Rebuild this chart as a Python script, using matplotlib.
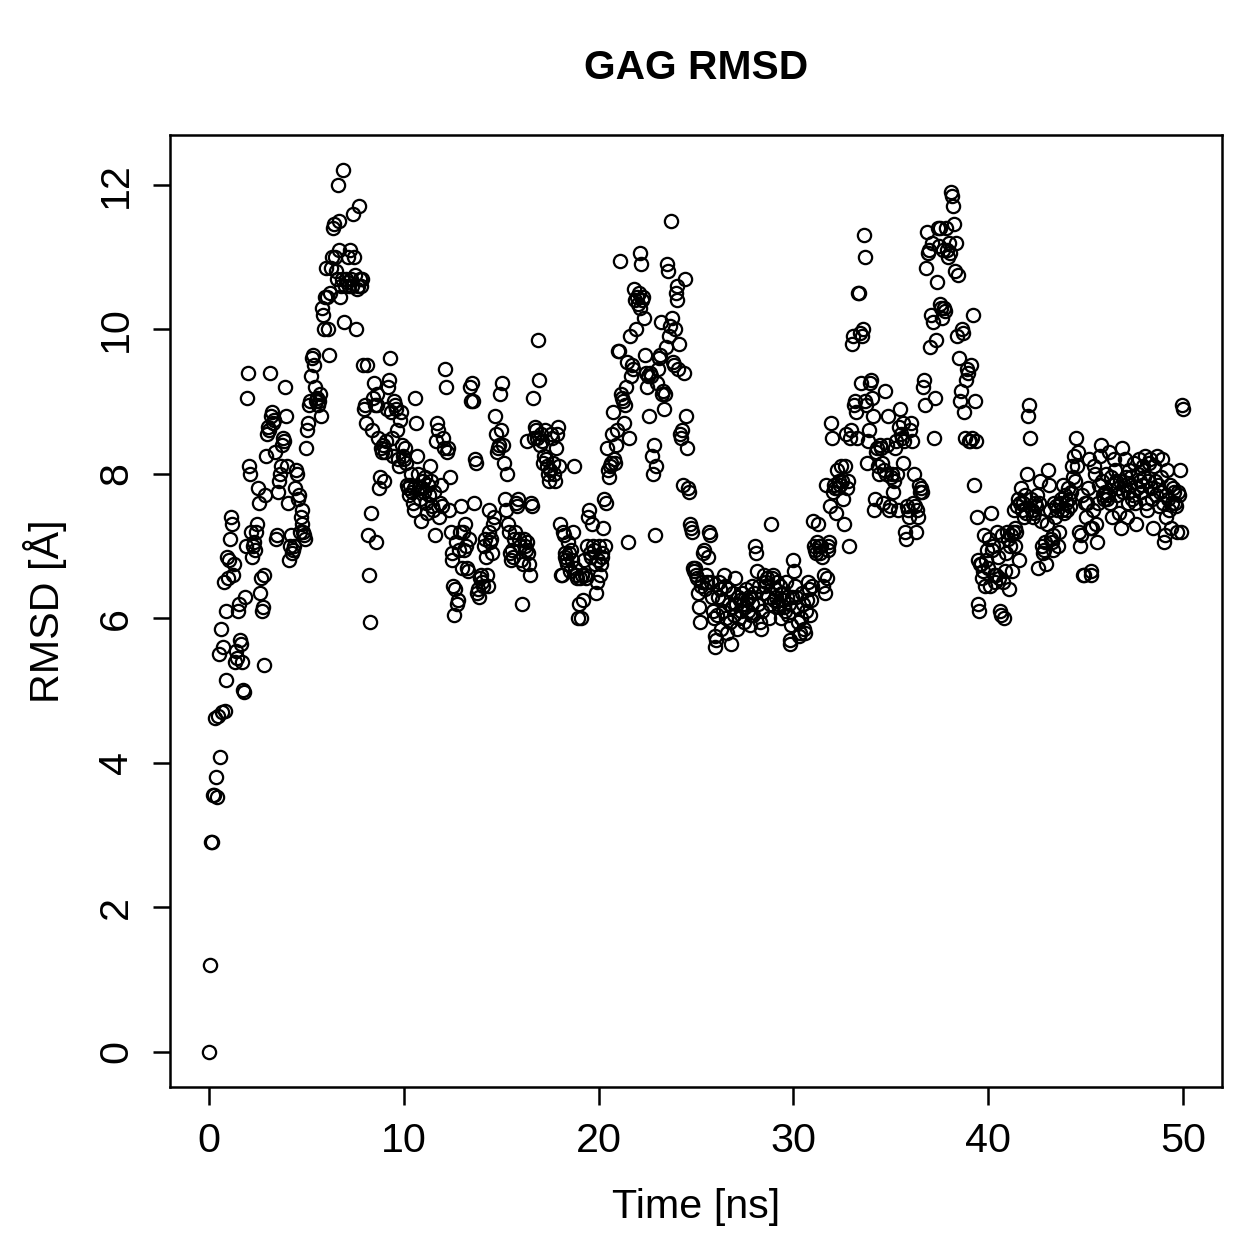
import numpy as np
import matplotlib
matplotlib.use("Agg")
import matplotlib.pyplot as plt

plt.rcParams['font.family'] = ['Liberation Sans', 'DejaVu Sans']

# RMSD values, one frame every 0.05 ns (20 per row = 1 ns)
rmsd = [
    0.0, 1.2, 2.9, 2.9, 3.55, 3.55, 4.62, 3.8, 3.52, 4.65, 5.5, 4.08, 5.85, 4.7, 5.6, 6.5, 4.72, 5.15, 6.1, 6.85,
    6.55, 6.8, 7.1, 7.4, 7.3, 6.6, 6.75, 5.4, 5.55, 5.45, 6.1, 6.2, 5.7, 5.65, 5.4, 5.0, 4.98, 6.3, 7.0, 9.05,
    9.4, 8.1, 8.0, 7.2, 6.85, 7.0, 7.05, 6.95, 7.2, 7.3, 7.8, 7.6, 6.35, 6.55, 6.1, 6.15, 5.35, 6.6, 7.7, 8.25,
    8.55, 8.65, 8.6, 9.4, 8.8, 8.85, 8.7, 8.75, 8.3, 7.1, 7.15, 7.75, 7.9, 8.0, 8.1, 8.4, 8.5, 8.45, 9.2, 8.8,
    8.1, 7.6, 6.8, 7.0, 7.15, 6.9, 6.95, 7.0, 7.8, 8.05, 8.0, 7.65, 7.7, 7.2, 7.4, 7.5, 7.3, 7.2, 7.15, 7.1,
    8.35, 8.6, 8.7, 8.95, 9.0, 9.35, 9.6, 9.65, 9.5, 9.2, 9.0, 9.05, 8.95, 9.0, 9.1, 8.8, 10.3, 10.2, 10.0, 10.45,
    10.85, 10.45, 10.0, 9.65, 10.5, 10.85, 11.0, 11.4, 11.45, 11.0, 10.8, 10.7, 12.0, 11.5, 11.1, 10.45, 10.6, 10.7, 12.2, 10.1,
    10.6, 10.7, 10.65, 11.0, 10.6, 11.1, 10.7, 10.6, 11.6, 11.0, 10.75, 10.0, 10.55, 10.6, 11.7, 10.7, 10.6, 10.7, 9.5, 8.9,
    8.95, 8.7, 9.5, 7.15, 6.6, 5.95, 7.45, 8.6, 9.05, 9.25, 8.95, 7.05, 9.1, 8.95, 8.5, 7.8, 7.95, 8.35, 8.3, 8.4,
    7.9, 8.3, 8.45, 8.9, 9.2, 9.3, 9.6, 8.85, 8.5, 8.25, 9.0, 8.95, 8.9, 8.6, 8.2, 8.1, 8.75, 8.85, 8.4, 8.25,
    8.2, 8.35, 8.15, 7.85, 7.8, 7.7, 7.85, 8.0, 7.75, 7.6, 7.5, 7.8, 9.05, 8.7, 8.25, 8.0, 7.8, 7.65, 7.35, 7.8,
    7.9, 7.75, 7.95, 7.6, 7.45, 7.85, 7.7, 8.1, 7.9, 7.55, 7.5, 7.75, 7.15, 8.45, 8.7, 8.6, 7.4, 7.6, 7.85, 7.55,
    8.5, 8.35, 9.45, 9.2, 8.3, 8.35, 7.5, 7.95, 7.2, 6.8, 6.9, 6.45, 6.05, 6.4, 7.05, 6.2, 6.25, 6.95, 7.2, 7.55,
    6.7, 7.2, 6.95, 7.3, 7.0, 6.7, 6.65, 7.1, 9.2, 9.0, 9.25, 9.0, 7.6, 8.2, 8.15, 6.35, 6.4, 6.3, 6.55, 6.6,
    6.5, 6.45, 7.0, 7.1, 6.85, 6.6, 6.45, 7.2, 7.5, 7.05, 7.1, 6.9, 7.3, 7.4, 8.8, 8.55, 8.3, 8.35, 8.4, 9.1,
    8.6, 9.25, 8.4, 8.15, 7.65, 7.5, 8.0, 7.3, 7.2, 6.9, 6.8, 6.95, 6.85, 7.1, 7.2, 7.6, 7.55, 7.65, 7.1, 7.0,
    6.8, 6.2, 6.75, 7.1, 7.0, 6.95, 7.05, 8.45, 6.9, 6.75, 6.6, 7.6, 7.55, 9.05, 8.5, 8.65, 8.6, 8.5, 9.85, 9.3,
    8.4, 8.55, 8.45, 8.15, 8.25, 8.6, 8.2, 8.1, 8.0, 7.9, 8.05, 8.55, 8.5, 8.15, 8.0, 7.9, 8.35, 8.55, 8.65, 8.1,
    7.3, 6.6, 6.6, 7.2, 7.15, 6.9, 6.85, 6.8, 6.75, 7.05, 6.9, 6.65, 6.95, 6.8, 7.2, 8.1, 6.7, 6.6, 6.55, 6.0,
    6.2, 6.55, 6.0, 6.6, 6.25, 6.8, 6.6, 6.55, 7.0, 7.4, 7.5, 6.9, 6.85, 7.3, 7.0, 6.95, 6.75, 6.35, 6.5, 6.8,
    7.0, 6.6, 6.75, 6.9, 6.85, 7.25, 7.65, 7.0, 7.6, 8.35, 8.05, 7.95, 8.1, 8.15, 8.55, 8.85, 8.2, 8.15, 8.4, 8.6,
    9.7, 9.7, 10.95, 9.1, 9.05, 9.0, 8.7, 8.95, 9.2, 9.55, 7.05, 8.5, 9.9, 9.35, 9.5, 9.45, 10.55, 10.4, 10.0, 10.45,
    10.35, 10.5, 11.05, 10.3, 10.9, 10.4, 10.45, 10.15, 9.65, 9.4, 9.2, 9.35, 8.8, 9.4, 9.35, 8.25, 8.0, 8.4, 7.15, 8.1,
    9.25, 9.45, 9.6, 9.65, 10.1, 9.1, 9.15, 8.9, 9.1, 9.75, 10.9, 10.8, 9.9, 10.05, 11.5, 10.15, 9.55, 9.5, 10.0, 10.5,
    10.6, 10.4, 9.45, 9.8, 8.55, 8.5, 8.6, 7.85, 9.4, 10.7, 8.8, 8.35, 7.8, 7.75, 7.3, 7.25, 7.2, 6.7, 6.65, 6.7,
    6.6, 6.55, 6.35, 6.15, 5.95, 6.45, 6.5, 6.9, 6.95, 6.4, 6.6, 6.5, 6.85, 7.2, 7.15, 6.5, 6.3, 6.1, 6.0, 5.6,
    5.75, 5.7, 6.05, 6.3, 6.5, 6.4, 5.85, 6.25, 6.1, 6.6, 6.45, 6.0, 5.8, 6.4, 6.2, 5.95, 5.65, 6.15, 6.35, 6.05,
    6.55, 6.2, 5.85, 6.3, 6.0, 6.25, 6.1, 6.35, 6.2, 5.95, 6.15, 6.4, 6.25, 6.1, 6.3, 5.9, 6.05, 6.45, 6.2, 6.05,
    6.35, 7.0, 6.9, 6.65, 6.2, 6.45, 5.95, 5.85, 6.1, 6.35, 6.6, 6.45, 6.5, 6.55, 6.3, 6.0, 6.2, 7.3, 6.55, 6.6,
    6.25, 6.4, 6.3, 6.5, 6.2, 6.15, 6.45, 6.0, 6.35, 6.25, 6.15, 6.1, 6.5, 6.3, 6.05, 6.2, 5.7, 5.65, 5.9, 6.3,
    6.8, 6.65, 6.45, 6.3, 6.15, 5.95, 5.75, 5.8, 6.0, 6.35, 6.2, 5.85, 5.8, 6.1, 6.25, 6.5, 6.4, 6.05, 6.25, 6.45,
    7.35, 7.0, 6.95, 6.9, 7.05, 7.3, 7.0, 6.9, 7.0, 6.85, 6.45, 6.6, 6.35, 7.85, 6.55, 7.0, 6.95, 7.05, 7.55, 8.7,
    8.5, 7.75, 7.85, 7.8, 7.45, 8.05, 7.8, 7.9, 7.85, 8.1, 7.9, 7.65, 7.3, 8.1, 8.55, 7.8, 7.9, 7.0, 8.5, 8.6,
    9.8, 9.9, 8.95, 9.0, 8.85, 8.5, 10.5, 10.5, 9.95, 9.25, 9.9, 10.0, 11.3, 11.0, 9.0, 8.95, 8.15, 8.45, 8.6, 9.25,
    9.3, 9.05, 8.8, 7.5, 7.65, 8.3, 8.35, 8.1, 8.0, 8.4, 8.35, 8.15, 7.6, 8.05, 9.15, 8.0, 8.4, 8.8, 7.5, 7.55,
    7.95, 8.0, 7.75, 7.9, 8.35, 8.45, 8.0, 7.5, 8.65, 8.9, 8.55, 8.5, 8.15, 8.7, 8.45, 7.2, 7.1, 7.55, 7.5, 7.4,
    8.6, 8.7, 8.45, 7.6, 8.0, 7.55, 7.2, 7.5, 7.4, 7.85, 7.75, 7.8, 7.75, 9.2, 9.3, 8.95, 10.85, 11.35, 11.05, 11.1,
    9.75, 10.2, 11.2, 10.1, 8.5, 9.05, 9.85, 10.65, 11.4, 11.15, 11.4, 10.35, 10.3, 10.15, 11.1, 10.3, 10.25, 11.4, 11.1, 11.0,
    11.2, 11.05, 11.9, 11.85, 11.7, 11.45, 10.8, 11.2, 9.9, 10.75, 9.6, 9.0, 9.15, 10.0, 9.95, 8.85, 8.5, 9.3, 9.45, 9.4,
    8.45, 8.45, 9.5, 8.5, 10.2, 7.85, 9.0, 8.45, 7.4, 6.8, 6.2, 6.1, 6.75, 6.75, 6.55, 6.65, 7.15, 6.45, 6.8, 6.95,
    6.7, 7.1, 6.45, 7.45, 6.95, 7.0, 6.6, 6.5, 6.6, 7.2, 6.85, 6.55, 6.1, 6.05, 7.15, 6.5, 6.0, 6.65, 6.9, 7.2,
    7.1, 6.4, 7.0, 7.15, 6.65, 7.2, 7.5, 7.25, 7.0, 7.2, 7.55, 7.65, 6.8, 7.6, 7.8, 7.5, 7.6, 7.4, 7.7, 7.45,
    8.0, 8.8, 8.95, 8.5, 7.65, 7.5, 7.4, 7.45, 7.6, 7.55, 7.7, 6.7, 7.6, 7.9, 7.35, 7.0, 6.9, 6.95, 7.05, 6.75,
    7.3, 8.05, 7.85, 7.5, 7.1, 7.05, 6.95, 7.15, 7.6, 7.4, 7.55, 7.5, 7.0, 7.2, 7.6, 7.65, 7.5, 7.85, 7.45, 7.7,
    7.6, 7.5, 7.8, 7.65, 7.55, 7.75, 8.1, 7.95, 8.25, 7.9, 8.5, 8.1, 8.3, 7.2, 7.0, 7.15, 7.7, 6.6, 6.6, 7.6,
    7.4, 7.6, 7.8, 8.2, 7.25, 6.6, 6.65, 7.25, 7.5, 8.1, 8.0, 7.3, 7.05, 7.6, 7.85, 8.25, 8.4, 7.9, 7.7, 7.65,
    7.75, 8.0, 7.65, 7.7, 8.3, 7.6, 7.95, 7.4, 7.85, 8.2, 8.05, 7.9, 7.7, 7.8, 7.45, 7.9, 7.25, 8.35, 7.75, 7.85,
    8.2, 7.95, 7.4, 7.6, 7.75, 8.05, 7.85, 7.95, 7.65, 7.7, 8.15, 7.6, 7.3, 7.8, 8.0, 8.2, 7.9, 7.75, 7.85, 8.1,
    7.95, 8.25, 7.6, 7.5, 7.9, 8.15, 8.2, 7.8, 7.65, 7.25, 8.1, 7.9, 7.7, 8.25, 7.85, 7.55, 7.75, 7.95, 8.2, 7.6,
    7.05, 7.15, 7.4, 7.7, 8.05, 7.65, 7.5, 7.85, 7.25, 7.6, 7.8, 7.75, 7.6, 7.55, 7.2, 7.75, 7.7, 8.05, 7.2, 8.95,
    8.9,
]
rmsd = np.array(rmsd)
time_ns = np.linspace(0, 50, len(rmsd))

fig = plt.figure(figsize=(1259 / 180, 1259 / 180), dpi=180)
ax = fig.add_axes([170 / 1259, 1 - 1087 / 1259, (1222 - 170) / 1259, (1087 - 135) / 1259])

ax.plot(time_ns, rmsd, 'o', mfc='none', mec='black', ms=5.3, mew=0.9)

# R-style 4% padding
xr = time_ns.max() - time_ns.min()
yr = rmsd.max() - rmsd.min()
ax.set_xlim(time_ns.min() - 0.04 * xr, time_ns.max() + 0.04 * xr)
ax.set_ylim(rmsd.min() - 0.04 * yr, rmsd.max() + 0.04 * yr)

ax.set_xticks([0, 10, 20, 30, 40, 50])
ax.set_yticks([0, 2, 4, 6, 8, 10, 12])
ax.tick_params(direction='out', length=7, width=1, labelsize=16.5, pad=7)
for lab in ax.get_yticklabels():
    lab.set_rotation(90)
    lab.set_va('center')
for s in ax.spines.values():
    s.set_linewidth(1.0)

ax.set_xlabel('Time [ns]', fontsize=16.5, labelpad=11)
ax.set_ylabel('RMSD [Å]', fontsize=16.5, labelpad=12)
fig.text((170 + 1222) / 2 / 1259, 1 - 68 / 1259, 'GAG RMSD', ha='center', va='center',
         fontsize=16.3, fontweight='bold')

fig.savefig('out.png', dpi=180)
